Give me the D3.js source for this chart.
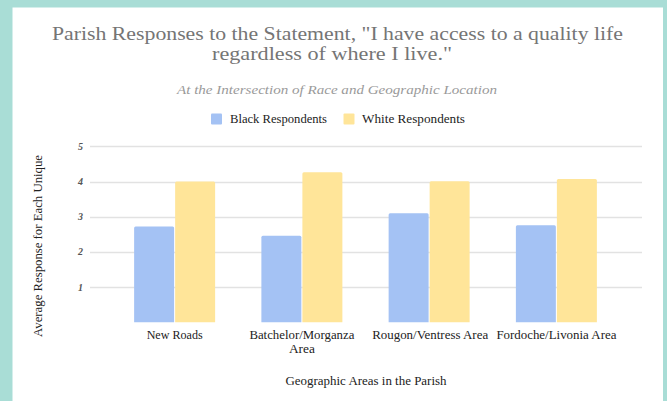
<!DOCTYPE html>
<html>
<head>
<meta charset="utf-8">
<script src="https://cdn.jsdelivr.net/npm/d3@7"></script>
<style>
  html, body { margin: 0; padding: 0; background: #a9ddd6; }
  svg { display: block; }
</style>
</head>
<body>
<svg id="chart" width="667" height="401"></svg>
<script>
// Survey averages per area, split by respondent group
const categories = [["New Roads"], ["Batchelor/Morganza", "Area"], ["Rougon/Ventress Area"], ["Fordoche/Livonia Area"]];
const seriesNames = ["Black Respondents", "White Respondents"];
const blackValues = [2.72, 2.46, 3.10, 2.76];
const whiteValues = [4.00, 4.26, 4.01, 4.07];
const yTicks = [1, 2, 3, 4, 5];
const titleLines = ["Parish Responses to the Statement, \"I have access to a quality life", "regardless of where I live.\""];
const subtitle = "At the Intersection of Race and Geographic Location";
const xTitle = "Geographic Areas in the Parish";
const yTitle = "Average Response for Each Unique";

const colors = ["#a4c2f4", "#ffe599"];
const serif = "\"Times New Roman\", Georgia, serif";

const svg = d3.select("#chart");

// white card on the teal page
svg.append("rect").attr("x", 12.5).attr("y", 7.5).attr("width", 650.5).attr("height", 400).attr("fill", "#ffffff");

// squeeze/stretch a text node to a target width
function fit(sel, w) {
  const n = sel.node();
  const len = n.getComputedTextLength();
  if (Math.abs(len - w) / w > 0.02) {
    sel.attr("textLength", w).attr("lengthAdjust", "spacingAndGlyphs");
  }
  return sel;
}

function txt(x, yy, size, color, t) {
  return svg.append("text").attr("x", x).attr("y", yy)
    .style("font-family", serif).attr("font-size", size)
    .attr("fill", color).text(t);
}

// title block
const titleWidths = [571, 240];
const titleBaselines = [39.5, 60];
const titleCenters = [337.5, 332];
titleLines.forEach((t, i) => {
  fit(txt(titleCenters[i], titleBaselines[i], 19, "#757575", t).attr("text-anchor", "middle"), titleWidths[i]);
});
fit(txt(337, 94, 12.5, "#9a9a9a", subtitle).attr("text-anchor", "middle").attr("font-style", "italic"), 320);

// legend
const legendItems = [
  { name: seriesNames[0], color: colors[0], sx: 211, tx: 230, w: 97 },
  { name: seriesNames[1], color: colors[1], sx: 343.5, tx: 362, w: 103 }
];
legendItems.forEach(d => {
  svg.append("rect").attr("x", d.sx).attr("y", 113.5).attr("width", 11).attr("height", 11)
    .attr("rx", 1).attr("fill", d.color);
  fit(txt(d.tx, 123, 11.5, "#222", d.name), d.w);
});

// scales
const x0 = d3.scaleBand().domain(d3.range(categories.length)).range([111, 620]).paddingInner(0).paddingOuter(0);
const groupWidth = 81;
const x1 = d3.scaleBand().domain([0, 1]).range([0, groupWidth]).paddingInner(0.025);
const y = d3.scaleLinear().domain([0, 5]).range([322.3, 146.3]);

// gridlines
svg.append("g").selectAll("line").data(yTicks).join("line")
  .attr("x1", 90).attr("x2", 642)
  .attr("y1", d => Math.round(y(d)) + 0.5).attr("y2", d => Math.round(y(d)) + 0.5)
  .attr("stroke", "#e2e2e2").attr("stroke-width", 1.3);

// y tick labels
svg.append("g").selectAll("text").data(yTicks).join("text")
  .attr("x", 83).attr("y", d => y(d) + 3.5)
  .attr("text-anchor", "end")
  .style("font-family", serif).attr("font-size", 10).attr("font-style", "italic").attr("font-weight", "bold")
  .attr("fill", "#555").text(d => d);

// bars
const rows = categories.map((c, i) => ({ i, vals: [blackValues[i], whiteValues[i]] }));
const groups = svg.append("g").selectAll("g").data(rows).join("g")
  .attr("transform", d => `translate(${x0(d.i) + (x0.bandwidth() - groupWidth) / 2},0)`);
groups.selectAll("path").data(d => d.vals.map((v, k) => ({ v, k }))).join("path")
  .attr("fill", d => colors[d.k])
  .attr("d", d => {
    const x = x1(d.k), w = x1.bandwidth(), top = y(d.v), bot = y(0), r = 1.5;
    return `M${x},${bot}V${top + r}Q${x},${top} ${x + r},${top}H${x + w - r}Q${x + w},${top} ${x + w},${top + r}V${bot}Z`;
  });

// category labels
const catWidths = [[56], [105, 26], [116], [120]];
categories.forEach((lines, i) => {
  const cx = x0(i) + x0.bandwidth() / 2;
  lines.forEach((t, j) => {
    fit(txt(cx + (i === 2 ? 1 : 0), 339 + j * 14, 11.5, "#222", t).attr("text-anchor", "middle"), catWidths[i][j]);
  });
});

// axis titles
fit(txt(366, 385, 11.5, "#222", xTitle).attr("text-anchor", "middle"), 161);

fit(svg.append("text")
  .attr("transform", "translate(42,246) rotate(-90)")
  .attr("text-anchor", "middle")
  .style("font-family", serif).attr("font-size", 11.5)
  .attr("fill", "#222").text(yTitle), 182);
</script>
</body>
</html>
